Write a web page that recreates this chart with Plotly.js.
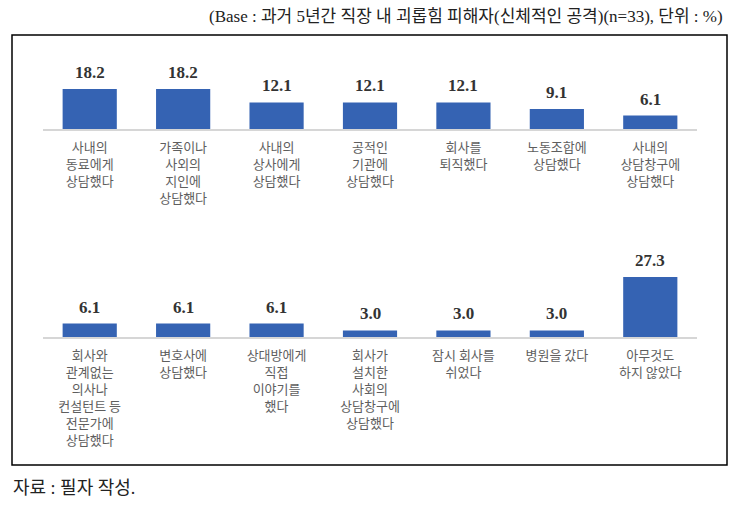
<!DOCTYPE html>
<html>
<head>
<meta charset="utf-8">
<script src="https://cdn.plot.ly/plotly-3.0.1.min.js"></script>
<style>
html,body{margin:0;padding:0;background:#fff;}
#chart{width:740px;height:507px;}
</style>
</head>
<body>
<div id="chart"></div>
<script>
// ---- data ----
const topCategories = [
  "사내의<br>동료에게<br>상담했다",
  "가족이나<br>사외의<br>지인에<br>상담했다",
  "사내의<br>상사에게<br>상담했다",
  "공적인<br>기관에<br>상담했다",
  "회사를<br>퇴직했다",
  "노동조합에<br>상담했다",
  "사내의<br>상담창구에<br>상담했다"
];
const topValues = [18.2, 18.2, 12.1, 12.1, 12.1, 9.1, 6.1];

const bottomCategories = [
  "회사와<br>관계없는<br>의사나<br>컨설턴트 등<br>전문가에<br>상담했다",
  "변호사에<br>상담했다",
  "상대방에게<br>직접<br>이야기를<br>했다",
  "회사가<br>설치한<br>사회의<br>상담창구에<br>상담했다",
  "잠시 회사를<br>쉬었다",
  "병원을 갔다",
  "아무것도<br>하지 않았다"
];
const bottomValues = [6.1, 6.1, 6.1, 3.0, 3.0, 3.0, 27.3];

const headerText = "(Base : 과거 5년간 직장 내 괴롭힘 피해자(신체적인 공격)(n=33), 단위 : %)";
const sourceText = "자료 : 필자 작성.";

// ---- styles ----
const W = 740, H = 507;
const barColor = "#3563B3";
const tickFont = {family: "Noto Sans CJK KR, sans-serif", size: 13, color: "#5e5e5e"};
const valueFont = {family: "Liberation Serif, serif", size: 17, color: "#333"};
const py = v => 1 - v / H;
const px = v => v / W;

const traces = [
  {type: "bar", x: topCategories, y: topValues, xaxis: "x", yaxis: "y",
   marker: {color: barColor}, hoverinfo: "none", cliponaxis: false},
  {type: "bar", x: bottomCategories, y: bottomValues, xaxis: "x2", yaxis: "y2",
   marker: {color: barColor}, hoverinfo: "none", cliponaxis: false}
];

const annotations = [];
topCategories.forEach((c, i) => annotations.push({
  xref: "x", yref: "y", x: c, y: topValues[i], text: "<b>" + topValues[i].toFixed(1) + "</b>",
  showarrow: false, yanchor: "bottom", yshift: 5, font: valueFont
}));
bottomCategories.forEach((c, i) => annotations.push({
  xref: "x2", yref: "y2", x: c, y: bottomValues[i], text: "<b>" + bottomValues[i].toFixed(1) + "</b>",
  showarrow: false, yanchor: "bottom", yshift: 5, font: valueFont
}));
annotations.push({
  xref: "paper", yref: "paper", x: px(725), y: py(16), xanchor: "right", yanchor: "middle",
  text: headerText, showarrow: false,
  font: {family: "Liberation Serif, Noto Sans CJK KR, serif", size: 17, color: "#222"}
});
annotations.push({
  xref: "paper", yref: "paper", x: px(11), y: py(488), xanchor: "left", yanchor: "middle",
  text: sourceText, showarrow: false,
  font: {family: "Liberation Serif, Noto Sans CJK KR, serif", size: 18, color: "#222"}
});

const xDomain = [px(43), px(697)];
const xBase = {
  domain: xDomain, showgrid: false, zeroline: false, showline: true,
  linecolor: "#d6d6d6", linewidth: 1.5, ticks: "", tickfont: tickFont,
  ticklabelstandoff: 6,
  fixedrange: true, tickangle: 0, automargin: false
};
const yBase = {range: [0, 30], showgrid: false, zeroline: false, showline: false,
  showticklabels: false, ticks: "", fixedrange: true};

const layout = {
  width: W, height: H,
  margin: {l: 0, r: 0, t: 0, b: 0},
  paper_bgcolor: "#fff", plot_bgcolor: "rgba(0,0,0,0)",
  showlegend: false,
  bargap: 0.42,
  xaxis: Object.assign({}, xBase, {anchor: "y"}),
  yaxis: Object.assign({}, yBase, {domain: [py(129), py(63)], anchor: "x"}),
  xaxis2: Object.assign({}, xBase, {anchor: "y2"}),
  yaxis2: Object.assign({}, yBase, {domain: [py(337), py(271)], anchor: "x2"}),
  annotations: annotations,
  shapes: [{
    type: "rect", xref: "paper", yref: "paper",
    x0: px(12), x1: px(727), y0: py(465), y1: py(35),
    line: {color: "#000", width: 1.5}, fillcolor: "rgba(0,0,0,0)"
  }]
};

Plotly.newPlot("chart", traces, layout, {displayModeBar: false, staticPlot: true});
</script>
</body>
</html>
